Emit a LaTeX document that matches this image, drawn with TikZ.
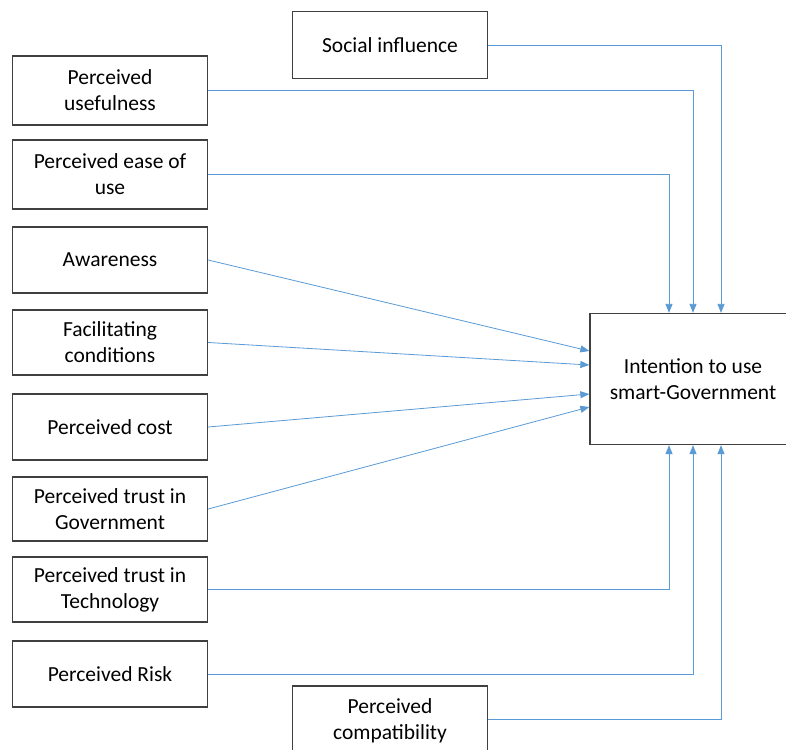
\documentclass[tikz,border=0pt]{standalone}
\usepackage{fontspec}
\setmainfont{Carlito}
\usetikzlibrary{arrows.meta,calc}
\definecolor{conn}{RGB}{91,155,213}
\definecolor{boxline}{RGB}{64,64,64}
\tikzset{
  factor/.style={draw=boxline, line width=1.3pt, fill=white, rectangle,
    minimum width=195pt, minimum height=67pt, align=center, inner sep=2pt,
    font=\fontsize{21.5}{26}\selectfont},
  link/.style={draw=conn, line width=0.8pt, -{Triangle[length=9pt,width=7pt]}}
}
\begin{document}
\begin{tikzpicture}[x=1pt,y=-1pt]
\useasboundingbox (0,0) rectangle (786,749);
\clip (0,0) rectangle (786,749);
\fill[white] (0,0) rectangle (786,749);
\node[factor] (si) at (390,45) {Social influence};
\node[factor, minimum height=69pt] (pu) at (110,90.5) {Perceived\\usefulness};
\node[factor, minimum height=69pt] (pe) at (110,174.5) {Perceived ease of\\use};
\node[factor, minimum height=66pt] (aw) at (110,260) {Awareness};
\node[factor, minimum height=65pt] (fc) at (110,342.5) {Facilitating\\conditions};
\node[factor, minimum height=66pt] (pc) at (110,427) {Perceived cost};
\node[factor, minimum height=64pt] (tg) at (110,509) {Perceived trust in\\Government};
\node[factor, minimum height=65pt] (tt) at (110,589.5) {Perceived trust in\\Technology};
\node[factor, minimum height=66pt] (pr) at (110,674) {Perceived Risk};
\node[factor, minimum height=70pt] (cp) at (390,721) {Perceived\\compatibility};
\node[factor, minimum width=206pt, minimum height=131pt] (ig) at (693,379) {Intention to use\\smart-Government};
% top connectors
\draw[link] (si.east) -| (ig.north -| 721,0);
\draw[link] (pu.east) -| (ig.north -| 693,0);
\draw[link] (pe.east) -| (ig.north -| 669,0);
% left slanted connectors
\draw[link] (aw.east) -- (ig.west |- 0,351);
\draw[link] (fc.east) -- (ig.west |- 0,365);
\draw[link] (pc.east) -- (ig.west |- 0,394);
\draw[link] (tg.east) -- (ig.west |- 0,407);
% bottom connectors
\draw[link] (tt.east) -| (ig.south -| 669,0);
\draw[link] (pr.east) -| (ig.south -| 693,0);
\draw[link] (cp.east |- 0,719) -| (ig.south -| 721,0);
\end{tikzpicture}
\end{document}
